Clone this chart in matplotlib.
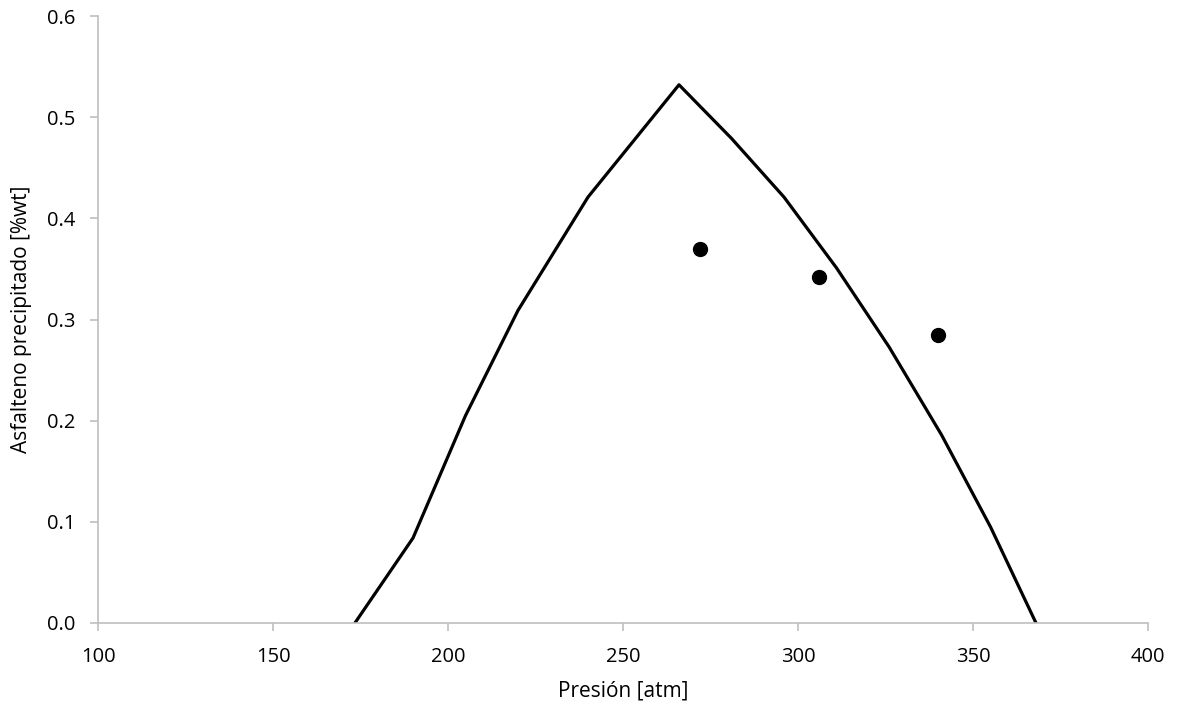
import matplotlib.pyplot as plt

# model curve
presion_modelo = [173.4, 190, 205, 220, 240, 266, 281, 296, 311, 326, 341, 355, 368]
asfalteno_modelo = [0.0, 0.084, 0.205, 0.309, 0.421, 0.532, 0.479, 0.421, 0.351, 0.273, 0.186, 0.095, 0.0]

# experimental points
presion_exp = [272, 306, 340]
asfalteno_exp = [0.370, 0.342, 0.285]

plt.rcParams['font.family'] = ['Open Sans', 'DejaVu Sans']

fig = plt.figure(figsize=(11.77, 7.11), dpi=100)
ax = fig.add_axes([98 / 1177, 88 / 711, 1050 / 1177, 607 / 711])

ax.plot(presion_modelo, asfalteno_modelo, color='black', linewidth=2.3)
ax.plot(presion_exp, asfalteno_exp, 'o', color='black', markersize=10)

ax.set_xlim(100, 400)
ax.set_ylim(0, 0.6)
ax.set_xticks(range(100, 401, 50))
ax.set_yticks([i / 10 for i in range(7)])
ax.set_yticklabels([f'{i / 10:.1f}' for i in range(7)])

for side in ['top', 'right']:
    ax.spines[side].set_visible(False)
for side in ['left', 'bottom']:
    ax.spines[side].set_color('#BFBFBF')
    ax.spines[side].set_linewidth(1.2)
ax.tick_params(colors='#BFBFBF', length=6, width=1.2, labelcolor='black', labelsize=14.5)
ax.tick_params(axis='x', pad=11)
ax.tick_params(axis='y', pad=10)

ax.set_xlabel('Presión [atm]', fontsize=15, labelpad=10)
ax.set_ylabel('Asfalteno precipitado [%wt]', fontsize=15, labelpad=11)

fig.savefig('out.png', dpi=100)
